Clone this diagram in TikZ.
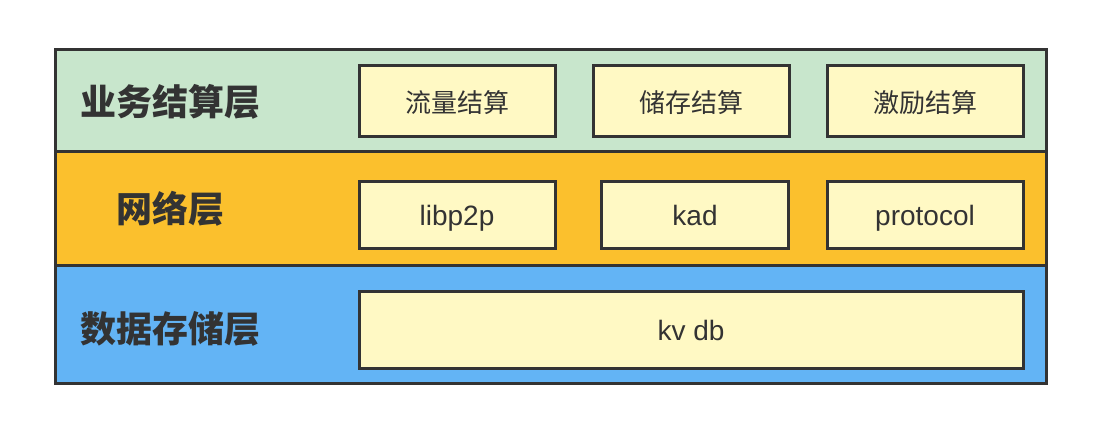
\documentclass[tikz,border=0pt]{standalone}
\usepackage{fontspec}
\setmainfont{Noto Sans CJK SC}
\newfontfamily\latinfont{Liberation Sans}
\definecolor{layergreen}{HTML}{C8E6CC}
\definecolor{layerorange}{HTML}{FBC02D}
\definecolor{layerblue}{HTML}{63B4F5}
\definecolor{boxcream}{HTML}{FFF9C4}
\definecolor{edgegray}{HTML}{333333}
\begin{document}
\begin{tikzpicture}[x=0.5pt,y=-0.5pt,
	   layer/.style={draw=edgegray,line width=1.5pt},
	   part/.style={draw=edgegray,fill=boxcream,line width=1.5pt,minimum width=98pt,minimum height=35pt,inner sep=0pt,font=\fontsize{13}{15}\selectfont,text=edgegray,text height=11.3pt,text depth=0pt},
	   latinpart/.style={part,font=\latinfont\fontsize{14}{16}\selectfont,text height=10pt,text depth=0pt},
	   title/.style={font=\fontsize{18}{20}\selectfont\bfseries,text=edgegray}]
	   \useasboundingbox (0,0) rectangle (1096,433);
	   \fill [fill=layergreen]  (55.5,49.5) rectangle (1046,151.5);
	   \fill [fill=layerorange] (55.5,151.5) rectangle (1046,265);
	   \fill [fill=layerblue]   (55.5,265) rectangle (1046,383);
	   \draw [layer] (55.5,151.5) -- (1046,151.5);
	   \draw [layer] (55.5,265) -- (1046,265);
	   \draw [layer] (55.5,49.5) rectangle (1046,383);
	   \node [title] (biz) at (170,102) {业务结算层};
	   \node [title] (net) at (170,209) {网络层};
	   \node [title] (store) at (170,329) {数据存储层};
	   \node [part] (flow) at (457,101) {流量结算};
	   \node [part] (save) at (691,101) {储存结算};
	   \node [part] (reward) at (925,101) {激励结算};
	   \node [latinpart,minimum height=33.5pt] (libp2p) at (457,215) {libp2p};
	   \node [latinpart,minimum width=93.5pt,minimum height=33.5pt] (kad) at (695,215) {kad};
	   \node [latinpart,minimum height=33.5pt] (protocol) at (925,215) {protocol};
	   \node [latinpart,minimum width=332pt,minimum height=38.5pt] (kvdb) at (691,330) {kv db};
\end{tikzpicture}
\end{document}
